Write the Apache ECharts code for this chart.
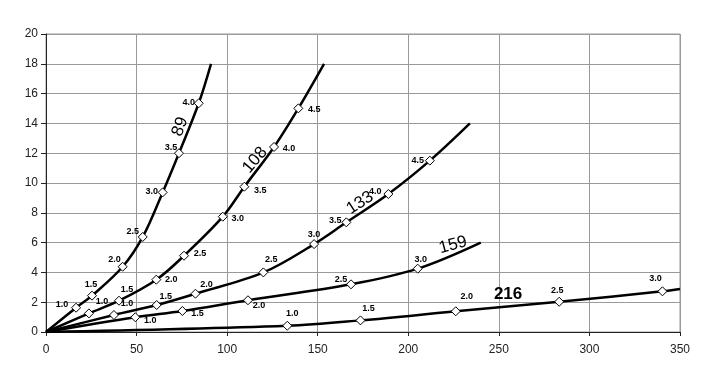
<!DOCTYPE html>
<html>
<head>
<meta charset="utf-8">
<script src="https://cdn.jsdelivr.net/npm/echarts@6/dist/echarts.min.js"></script>
<style>html,body{margin:0;padding:0;background:#fff}#c{width:720px;height:375px}</style>
</head>
<body>
<div id="c"></div>
<script>
// ---- data ----
const xTicks = [0, 50, 100, 150, 200, 250, 300, 350];
const yTicks = [0, 2, 4, 6, 8, 10, 12, 14, 16, 18, 20];

const curveNames = ['89', '108', '133', '159', '216'];

const c89X = [0, 16.6, 25.4, 42.3, 53.4, 64.4, 73.4, 84.3, 91.1];
const c89Y = [0, 1.63, 2.44, 4.38, 6.38, 9.37, 12.0, 15.35, 18.0];
const c89L = ['', '1.0', '1.5', '2.0', '2.5', '3.0', '3.5', '4.0', ''];

const c108X = [0, 23.7, 40.3, 60.9, 76.2, 97.6, 109.5, 125.9, 139.3, 153.5];
const c108Y = [0, 1.25, 2.1, 3.51, 5.12, 7.74, 9.75, 12.42, 15.01, 18.0];
const c108L = ['', '1.0', '1.5', '2.0', '2.5', '3.0', '3.5', '4.0', '4.5', ''];

const c133X = [0, 37.5, 61.1, 82.5, 120.0, 148.0, 165.8, 189.0, 211.9, 234.0];
const c133Y = [0, 1.14, 1.81, 2.57, 4.0, 5.9, 7.36, 9.26, 11.5, 14.0];
const c133L = ['', '1.0', '1.5', '2.0', '2.5', '3.0', '3.5', '4.0', '4.5', ''];

const c159X = [0, 49.3, 75.3, 111.5, 168.4, 205.2, 240.0];
const c159Y = [0, 0.99, 1.41, 2.13, 3.2, 4.25, 6.0];
const c159L = ['', '1.0', '1.5', '2.0', '2.5', '3.0', ''];

const c216X = [0, 133.2, 173.6, 226.2, 283.3, 340.3, 350.0];
const c216Y = [0, 0.42, 0.78, 1.39, 2.03, 2.73, 2.89];
const c216L = ['', '1.0', '1.5', '2.0', '2.5', '3.0', ''];

// curve name annotation anchor (data coords)
const nameX = [74.0, 115.4, 173.4, 224.7, 255.1];
const nameY = [13.78, 11.54, 8.66, 5.84, 2.55];

// ---- layout / style (not data) ----
const labelOffsets = {
  '89':  [null, [-14,-3], [-1,-11], [-8,-7], [-10,-5], [-11,-1], [-8,-6], [-10,-1], null],
  '108': [null, [13,-12], [8,-11], [15,0], [16,-2], [15,2], [16,4], [15,2], [16,1], null],
  '133': [null, [13,-11], [9,-9], [11,-9], [8,-13], [0,-10], [-11,-2], [-13,-3], [-12,0], null],
  '159': [null, [15,3], [15,3], [11,5], [-10,-5], [3,-9], null],
  '216': [null, [5,-12], [8,-12], [11,-15], [-2,-11], [-7,-13], null]
};
const nameRotate = [70, 50, 33, 15, 0];

const curves = [
  ['89', c89X, c89Y, c89L],
  ['108', c108X, c108Y, c108L],
  ['133', c133X, c133Y, c133L],
  ['159', c159X, c159Y, c159L],
  ['216', c216X, c216Y, c216L]
];

const series = curves.map(([name, xs, ys, ls]) => ({
  type: 'line',
  name: name,
  smooth: 0.35,
  z: 3,
  color: '#000',
  lineStyle: { color: '#000', width: 2.5 },
  itemStyle: { color: '#fff', borderColor: '#000', borderWidth: 1, opacity: 1 },
  symbol: 'diamond',
  symbolSize: 9,
  showAllSymbol: true,
  data: xs.map((x, i) => {
    const off = labelOffsets[name][i];
    const item = { value: [x, ys[i]] };
    if (!ls[i]) {
      item.symbol = 'none';
      item.label = { show: false };
    } else {
      item.label = {
        show: true, position: 'inside', offset: off,
        formatter: ls[i], fontSize: 9, fontWeight: 'bold',
        fontFamily: 'Liberation Sans, Arial, sans-serif', color: '#000',
        textBorderWidth: 0, textBorderColor: 'transparent'
      };
    }
    return item;
  })
}));

series.push({
  type: 'scatter',
  symbolSize: 1,
  silent: true,
  z: 4,
  color: '#000',
  itemStyle: { opacity: 1, color: 'transparent' },
  data: curveNames.map((n, i) => ({
    value: [nameX[i], nameY[i]],
    label: {
      show: true, position: 'inside', formatter: n, rotate: nameRotate[i],
      fontSize: 17, fontFamily: 'Liberation Sans, Arial, sans-serif', color: '#000',
      fontWeight: n === '216' ? 'bold' : 'normal', opacity: 1,
      textBorderWidth: 0, textBorderColor: 'transparent'
    }
  }))
});

const chart = echarts.init(document.getElementById('c'), null, { renderer: 'canvas' });
chart.setOption({
  animation: false,
  backgroundColor: '#fff',
  grid: { left: 46, right: 40, top: 34, bottom: 43, show: true, borderColor: '#999', borderWidth: 1 },
  xAxis: {
    type: 'value', min: xTicks[0], max: xTicks[xTicks.length - 1], interval: 50,
    axisLine: { lineStyle: { color: '#222', width: 1 } },
    axisTick: { show: true, length: 4, lineStyle: { color: '#222' } },
    axisLabel: { color: '#222', fontSize: 12, margin: 12, fontFamily: 'Liberation Sans, Arial, sans-serif' },
    splitLine: { show: true, lineStyle: { color: '#9a9a9a', width: 1 } }
  },
  yAxis: {
    type: 'value', min: yTicks[0], max: yTicks[yTicks.length - 1], interval: 2,
    axisLine: { show: true, lineStyle: { color: '#222', width: 1 } },
    axisTick: { show: true, length: 5, lineStyle: { color: '#222' } },
    axisLabel: { color: '#222', fontSize: 12, margin: 8, fontFamily: 'Liberation Sans, Arial, sans-serif' },
    splitLine: { show: true, lineStyle: { color: '#9a9a9a', width: 1 } }
  },
  series: series
});
</script>
</body>
</html>
